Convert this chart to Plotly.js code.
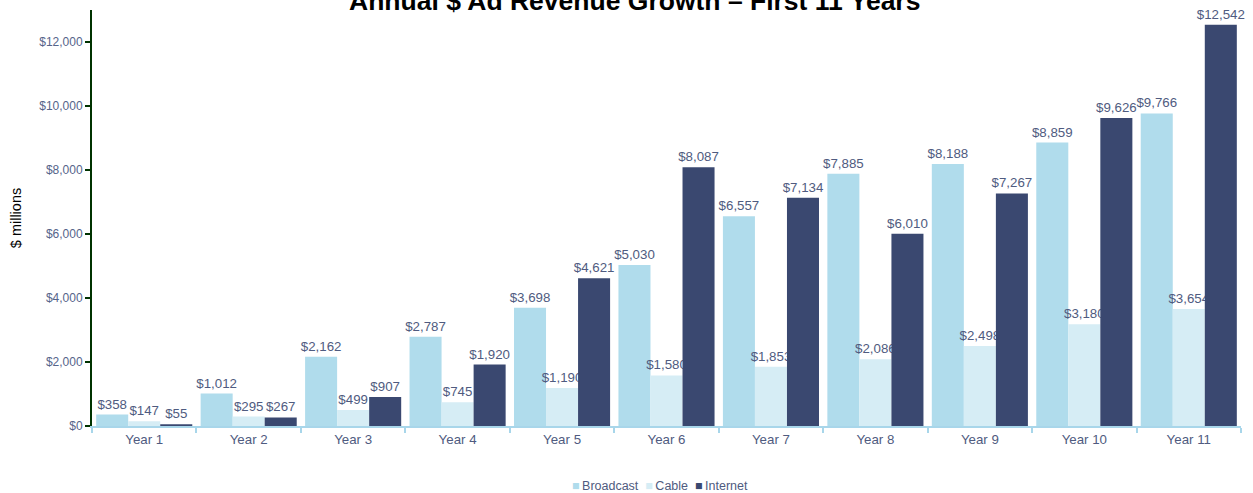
<!DOCTYPE html>
<html>
<head>
<meta charset="utf-8">
<script src="https://cdn.plot.ly/plotly-3.0.1.min.js"></script>
<style>html,body{margin:0;padding:0;background:#fff;}#chart{width:1253px;height:493px;}</style>
</head>
<body>
<div id="chart"></div>
<script>
var categories = ["Year 1","Year 2","Year 3","Year 4","Year 5","Year 6","Year 7","Year 8","Year 9","Year 10","Year 11"];
var seriesNames = ["Broadcast", "Cable", "Internet"];
var broadcast = [358, 1012, 2162, 2787, 3698, 5030, 6557, 7885, 8188, 8859, 9766];
var cable = [147, 295, 499, 745, 1190, 1580, 1853, 2086, 2498, 3180, 3654];
var internet = [55, 267, 907, 1920, 4621, 8087, 7134, 6010, 7267, 9626, 12542];
var yTicks = [0, 2000, 4000, 6000, 8000, 10000, 12000];
var yTickLabels = ["$0","$2,000","$4,000","$6,000","$8,000","$10,000","$12,000"];

var colors = ["#b0dcec", "#d6edf5", "#3a4870"];
var labelColor = "#4f5b80";
var FONT = "Liberation Sans, Arial, sans-serif";
function mk(name, vals, color) {
  return {
    type: "bar", name: name, x: categories, y: vals,
    marker: {color: color},
    text: vals.map(function(v){ return "$" + v.toLocaleString("en-US"); }),
    textposition: "outside", constraintext: "none", cliponaxis: false,
    textfont: {family: FONT, size: 13.3, color: labelColor},
    hoverinfo: "none"
  };
}
var seriesVals = [broadcast, cable, internet];
var data = seriesNames.map(function(n, i){ return mk(n, seriesVals[i], colors[i]); });

var legendText = seriesNames.map(function(n, i){
  return "<span style='color:" + colors[i] + "'>\u25A0</span>\u2009" + n;
}).join("&nbsp;&nbsp;");

var layout = {
  width: 1253, height: 493,
  margin: {l: 92, r: 12, t: 10, b: 67},
  paper_bgcolor: "#fff", plot_bgcolor: "#fff",
  barmode: "group", bargap: 0.08, bargroupgap: 0,
  font: {family: FONT, color: labelColor},
  showlegend: false,
  xaxis: {
    type: "category", showgrid: false, zeroline: false,
    showline: true, linecolor: "#a8d6ea", linewidth: 2,
    ticks: "outside", tickson: "boundaries", ticklen: 5, tickcolor: "#a8d6ea", tickwidth: 2,
    tickfont: {size: 13.3, color: labelColor}
  },
  yaxis: {
    range: [0, 13000], showgrid: false, zeroline: false,
    showline: true, linecolor: "#003300", linewidth: 2,
    ticks: "outside", ticklen: 5, tickcolor: "#003300", tickwidth: 2,
    tickvals: yTicks, ticktext: yTickLabels,
    tickfont: {size: 12, color: "#56648a"},
    title: {text: "$ millions", font: {size: 14.5, color: "#000"}, standoff: 14}
  },
  annotations: [{
    text: "<b>Annual $ Ad Revenue Growth \u2013 First 11 Years</b>",
    xref: "paper", yref: "paper", x: 0.472, y: 1.0, yanchor: "middle", xanchor: "center",
    yshift: 9, showarrow: false, font: {size: 26.5, color: "#000", family: FONT}
  }, {
    text: legendText,
    xref: "paper", yref: "paper", x: 0.494, y: -0.145, yanchor: "middle", xanchor: "center",
    showarrow: false, font: {size: 12.5, color: labelColor, family: FONT}
  }]
};
Plotly.newPlot("chart", data, layout, {staticPlot: true});
</script>
</body>
</html>
